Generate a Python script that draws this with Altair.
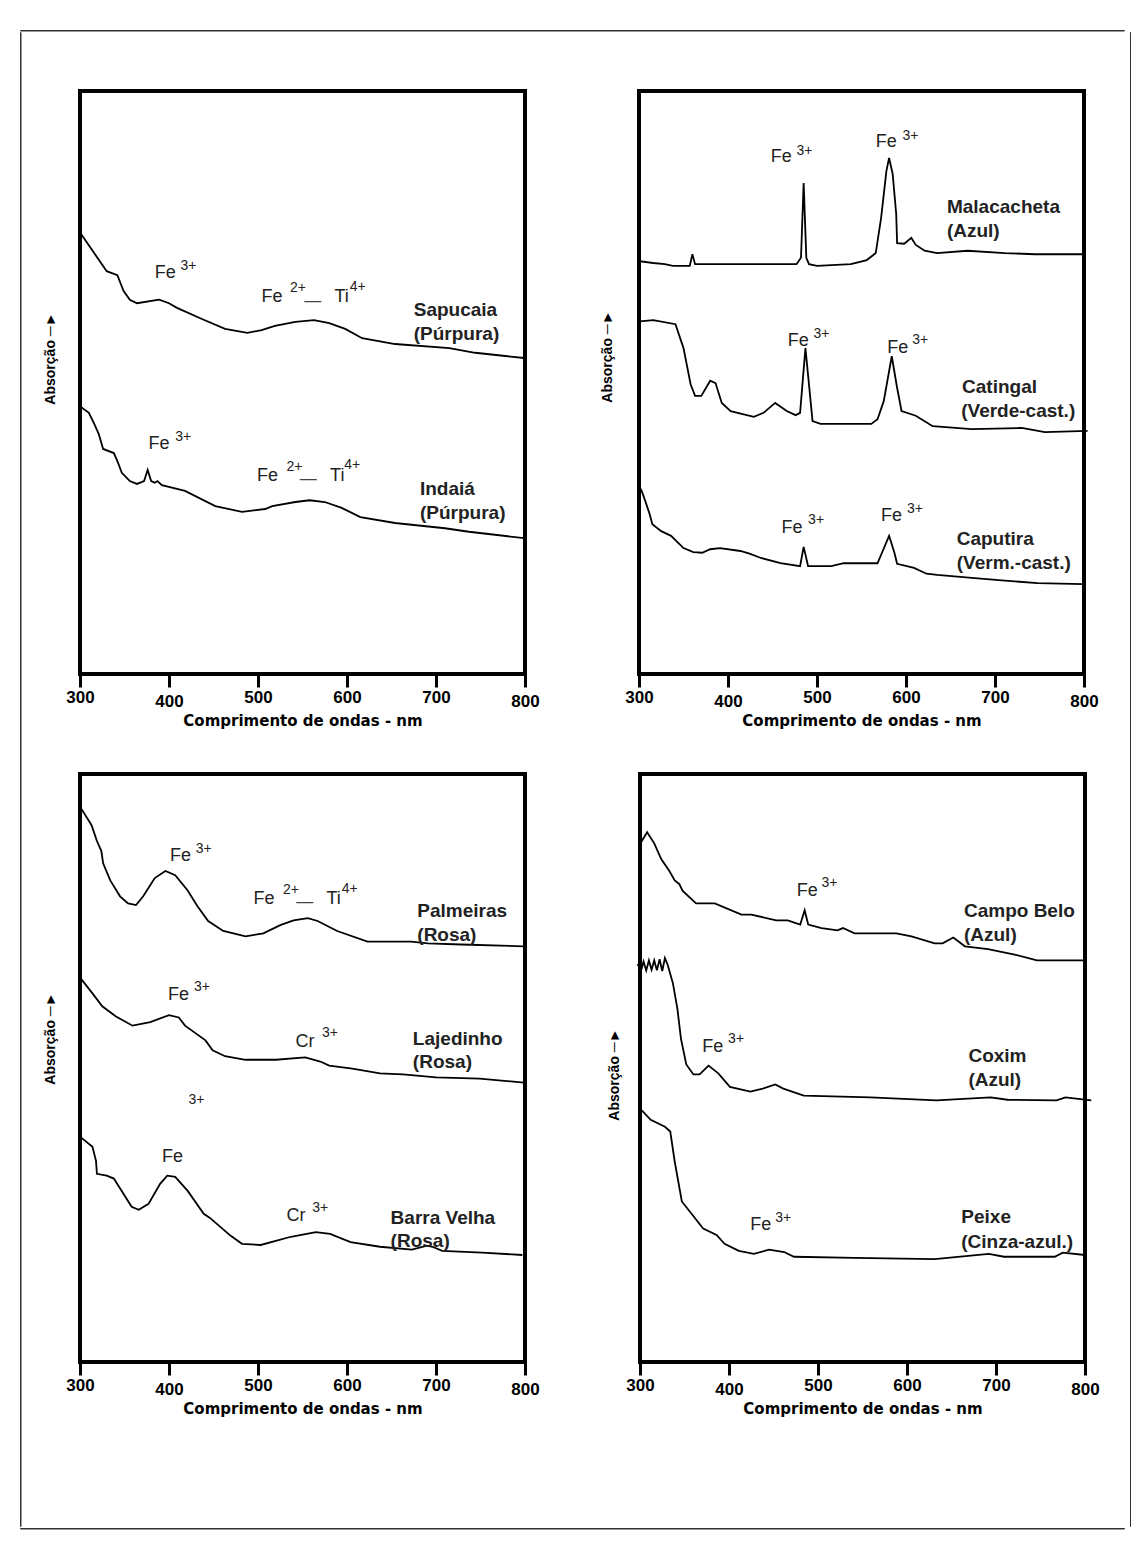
import altair as alt
import pandas as pd

# ---------------- data (wavelength nm, relative absorption) ----------------
# Panel A (top-left)
sap_nm = [301, 330, 342, 349, 356, 364, 389, 400, 409, 437, 463, 488, 504, 519, 542, 563, 580, 598, 617, 654, 715, 744, 799]
sap_ab = [75.5, 69.1, 68.4, 65.7, 64.2, 63.6, 64.2, 63.6, 62.8, 60.9, 59.2, 58.5, 59.0, 59.7, 60.4, 60.7, 60.2, 59.2, 57.6, 56.6, 55.9, 55.1, 54.2]
ind_nm = [301, 310, 316, 321, 326, 338, 342, 347, 356, 364, 372, 376, 380, 384, 387, 392, 418, 452, 482, 508, 516, 542, 558, 575, 594, 615, 654, 710, 737, 799]
ind_ab = [45.8, 44.8, 42.9, 41.2, 38.6, 37.9, 36.5, 34.5, 33.1, 32.6, 33.1, 35.0, 33.1, 32.8, 33.1, 32.4, 31.4, 28.8, 27.8, 28.3, 28.8, 29.5, 29.8, 29.5, 28.5, 26.9, 25.9, 25.0, 24.4, 23.3]

# Panel B (top-right)
mal_nm = [301, 316, 329, 338, 357, 360, 363, 372, 410, 448, 477, 482, 485, 488, 491, 500, 538, 556, 566, 572, 578, 581, 585, 589, 590, 598, 606, 611, 621, 635, 669, 711, 745, 799]
mal_ab = [70.8, 70.5, 70.3, 70.0, 70.0, 72.0, 70.3, 70.3, 70.3, 70.3, 70.3, 71.4, 84.2, 71.4, 70.3, 70.0, 70.3, 71.0, 72.2, 78.2, 86.3, 88.5, 85.8, 78.9, 73.9, 73.8, 74.8, 73.6, 72.6, 72.2, 72.6, 72.2, 72.0, 72.0]
cat_nm = [301, 316, 341, 350, 358, 363, 370, 380, 386, 393, 403, 429, 440, 453, 466, 476, 481, 487, 495, 504, 561, 568, 575, 584, 590, 595, 611, 630, 674, 730, 756, 804]
cat_ab = [60.5, 60.7, 60.0, 55.9, 49.7, 47.7, 47.7, 50.3, 49.9, 46.5, 45.1, 44.1, 44.8, 46.5, 45.1, 44.4, 44.8, 55.9, 43.4, 42.9, 42.9, 43.7, 46.8, 54.5, 49.1, 45.1, 44.3, 42.5, 42.0, 42.2, 41.5, 41.7]
cap_nm = [300, 303, 307, 312, 315, 325, 336, 350, 361, 371, 380, 391, 414, 425, 437, 459, 481, 485, 490, 516, 530, 568, 573, 581, 587, 590, 609, 623, 635, 674, 711, 748, 799]
cap_ab = [32.2, 31.4, 29.7, 27.4, 25.7, 24.5, 23.7, 21.6, 20.9, 20.8, 21.4, 21.6, 21.1, 20.6, 19.9, 19.0, 18.5, 21.8, 18.5, 18.5, 19.0, 19.0, 20.8, 23.7, 20.8, 18.9, 18.2, 17.2, 17.0, 16.5, 16.0, 15.6, 15.4]

# Panel C (bottom-left)
pal_nm = [301, 308, 313, 319, 324, 326, 334, 345, 354, 363, 371, 384, 396, 407, 421, 432, 444, 461, 486, 506, 525, 540, 556, 567, 589, 623, 672, 691, 728, 799]
pal_ab = [94.2, 92.5, 91.3, 88.6, 86.9, 84.8, 81.9, 79.2, 78.0, 77.7, 79.2, 82.3, 83.5, 82.8, 80.2, 77.5, 75.0, 73.3, 72.4, 72.9, 74.3, 75.1, 75.5, 75.0, 73.3, 71.5, 71.5, 71.2, 71.0, 70.7]
laj_nm = [301, 314, 325, 340, 359, 379, 400, 411, 418, 441, 449, 463, 486, 520, 553, 570, 580, 606, 637, 663, 700, 749, 799]
laj_ab = [65.2, 62.7, 60.5, 58.8, 57.2, 57.8, 59.0, 58.6, 57.2, 54.7, 53.0, 52.0, 51.4, 51.4, 51.8, 51.1, 50.4, 49.9, 49.1, 48.9, 48.4, 48.2, 47.5]
bar_nm = [301, 314, 318, 319, 330, 338, 358, 366, 377, 390, 398, 407, 421, 439, 446, 469, 482, 503, 537, 565, 581, 604, 637, 673, 690, 696, 707, 752, 797]
bar_ab = [38.2, 36.6, 34.2, 32.0, 31.7, 31.2, 26.4, 25.9, 26.9, 30.3, 31.7, 31.5, 29.1, 25.2, 24.5, 21.5, 20.1, 19.9, 21.3, 22.1, 21.8, 20.4, 19.6, 19.1, 19.8, 19.6, 18.9, 18.6, 18.2]

# Panel D (bottom-right)
cb_nm = [300, 308, 316, 324, 333, 339, 344, 348, 363, 384, 414, 425, 453, 466, 480, 485, 489, 504, 522, 528, 541, 588, 605, 631, 640, 652, 665, 691, 721, 746, 800]
cb_ab = [88.1, 90.1, 88.2, 85.5, 83.5, 81.9, 81.3, 80.1, 78.0, 78.0, 76.1, 76.1, 75.1, 75.1, 74.4, 76.8, 74.4, 73.8, 73.4, 73.8, 72.9, 72.9, 72.4, 71.2, 71.2, 72.2, 70.7, 70.2, 69.3, 68.3, 68.3]
cox_nm = [297, 300, 301.5, 304, 307, 310, 313, 316, 319, 322, 325, 328, 331, 337, 342, 346, 352, 360, 367, 377, 388, 401, 424, 438, 452, 461, 484, 559, 633, 694, 713, 768, 778, 807]
cox_ab = [67.4, 67.9, 66.7, 68.1, 66.6, 68.3, 66.7, 68.3, 66.6, 68.5, 66.5, 68.7, 67.6, 64.4, 60.1, 55.0, 50.6, 48.9, 48.9, 50.4, 49.1, 46.8, 46.0, 46.5, 47.2, 46.5, 45.3, 45.0, 44.5, 45.0, 44.6, 44.5, 45.0, 44.5]
pei_nm = [302, 312, 328, 334, 339, 347, 371, 386, 395, 411, 428, 445, 462, 473, 541, 631, 692, 709, 766, 775, 800]
pei_ab = [42.8, 41.2, 40.0, 39.2, 34.1, 27.3, 22.7, 21.6, 20.1, 18.9, 18.4, 19.1, 18.7, 17.9, 17.7, 17.5, 18.4, 17.9, 17.9, 18.6, 18.2]

# annotations: (text, nm, absorption, kind)
notes_a = [
    ("Fe", 384, 68.8, "ion"), ("3+", 413, 70.0, "sup"),
    ("Fe", 504, 64.7, "ion"), ("2+", 536, 66.2, "sup"), ("—", 552, 64.0, "dash"),
    ("Ti", 586, 64.7, "ion"), ("4+", 603, 66.4, "sup"),
    ("Sapucaia", 675, 62.4, "name"), ("(Púrpura)", 675, 58.3, "name"),
    ("Fe", 377, 39.5, "ion"), ("3+", 407, 40.7, "sup"),
    ("Fe", 499, 34.0, "ion"), ("2+", 532, 35.5, "sup"), ("—", 547, 33.4, "dash"),
    ("Ti", 581, 34.0, "ion"), ("4+", 597, 35.8, "sup"),
    ("Indaiá", 682, 31.7, "name"), ("(Púrpura)", 682, 27.6, "name"),
]
notes_b = [
    ("Fe", 448, 88.7, "ion"), ("3+", 477, 89.7, "sup"),
    ("Fe", 566, 91.3, "ion"), ("3+", 596, 92.3, "sup"),
    ("Malacacheta", 646, 80.1, "name"), ("(Azul)", 646, 76.0, "name"),
    ("Fe", 467, 57.1, "ion"), ("3+", 496, 58.3, "sup"),
    ("Fe", 579, 55.9, "ion"), ("3+", 607, 57.3, "sup"),
    ("Catingal", 663, 49.2, "name"), ("(Verde-cast.)", 662, 45.1, "name"),
    ("Fe", 460, 25.0, "ion"), ("3+", 490, 26.4, "sup"),
    ("Fe", 572, 27.1, "ion"), ("3+", 601, 28.3, "sup"),
    ("Caputira", 657, 23.2, "name"), ("(Verm.-cast.)", 657, 19.0, "name"),
]
notes_c = [
    ("Fe", 401, 86.0, "ion"), ("3+", 430, 87.2, "sup"),
    ("Fe", 495, 78.7, "ion"), ("2+", 528, 80.2, "sup"), ("—", 543, 78.2, "dash"),
    ("Ti", 577, 78.7, "ion"), ("4+", 594, 80.4, "sup"),
    ("Palmeiras", 679, 76.7, "name"), ("(Rosa)", 679, 72.7, "name"),
    ("Fe", 399, 62.4, "ion"), ("3+", 428, 63.7, "sup"),
    ("Cr", 542, 54.5, "ion"), ("3+", 572, 55.9, "sup"),
    ("Lajedinho", 674, 55.0, "name"), ("(Rosa)", 674, 51.1, "name"),
    ("3+", 422, 44.6, "sup"),
    ("Fe", 392, 34.9, "ion"),
    ("Cr", 532, 24.9, "ion"), ("3+", 561, 26.2, "sup"),
    ("Barra Velha", 649, 24.5, "name"), ("(Rosa)", 649, 20.6, "name"),
]
notes_d = [
    ("Fe", 476, 80.1, "ion"), ("3+", 504, 81.4, "sup"),
    ("Campo Belo", 664, 76.7, "name"), ("(Azul)", 664, 72.6, "name"),
    ("Fe", 370, 53.5, "ion"), ("3+", 399, 54.9, "sup"),
    ("Coxim", 669, 52.0, "name"), ("(Azul)", 669, 48.0, "name"),
    ("Fe", 424, 23.3, "ion"), ("3+", 452, 24.5, "sup"),
    ("Peixe", 661, 24.7, "name"), ("(Cinza-azul.)", 661, 20.4, "name"),
]

tick_values = [300, 400, 500, 600, 700, 800]
x_title = "Comprimento de ondas - nm"
y_title = "Absorção ─►"

W = 445


def panel(series, notes, title_pad, title_y, height):
    lines = pd.concat(
        [pd.DataFrame({"nm": n, "ab": a, "amostra": name}) for name, n, a in series],
        ignore_index=True,
    )
    ann = pd.DataFrame(notes, columns=["text", "nm", "ab", "kind"])

    x = alt.X(
        "nm:Q",
        scale=alt.Scale(domain=[300, 800], nice=False, zero=False),
        axis=alt.Axis(
            values=tick_values, title=x_title, grid=False, domain=False,
            tickSize=13, tickWidth=3, tickColor="black",
            labelFont="Liberation Sans", labelFontSize=17, labelFontWeight="bold",
            labelColor="black", labelFlush=False, labelOverlap=False,
            labelPadding={"condition": {"test": "datum.value == 400 || datum.value == 800", "value": 6}, "value": 2},
            titleFont="DejaVu Sans", titleFontSize=15, titleFontWeight="bold",
            titleColor="black", titlePadding=4,
        ),
    )
    y = alt.Y(
        "ab:Q",
        scale=alt.Scale(domain=[0, 100], nice=False, zero=False),
        axis=alt.Axis(
            title=y_title, labels=False, ticks=False, domain=False, grid=False,
            titleFont="Liberation Sans", titleFontSize=14, titleFontWeight="bold",
            titleColor="black", titlePadding=title_pad, titleY=title_y,
        ),
    )
    line = alt.Chart(lines).mark_line(color="black", strokeWidth=1.8).encode(
        x=x, y=y, detail="amostra:N"
    )
    base = alt.Chart(ann).encode(x=x, y=y, text="text:N")
    ion = base.mark_text(align="left", baseline="middle", font="Liberation Sans",
                         fontSize=18, color="#222").transform_filter(alt.datum.kind == "ion")
    sup = base.mark_text(align="left", baseline="middle", font="Liberation Sans",
                         fontSize=14, color="#222").transform_filter(alt.datum.kind == "sup")
    dash = base.mark_text(align="left", baseline="middle", font="Liberation Sans",
                          fontSize=17, color="#444").transform_filter(alt.datum.kind == "dash")
    name = base.mark_text(align="left", baseline="middle", font="Liberation Sans",
                          fontSize=19, fontWeight="bold", color="#222").transform_filter(alt.datum.kind == "name")
    return alt.layer(line, ion, sup, dash, name).properties(width=W, height=height)


pa = panel([("Sapucaia", sap_nm, sap_ab), ("Indaiá", ind_nm, ind_ab)], notes_a, 23, 267, 583)
pb = panel([("Malacacheta", mal_nm, mal_ab), ("Catingal", cat_nm, cat_ab),
            ("Caputira", cap_nm, cap_ab)], notes_b, 25, 265, 583)
pc = panel([("Palmeiras", pal_nm, pal_ab), ("Lajedinho", laj_nm, laj_ab),
            ("Barra Velha", bar_nm, bar_ab)], notes_c, 23, 264, 588)
pd_ = panel([("Campo Belo", cb_nm, cb_ab), ("Coxim", cox_nm, cox_ab),
             ("Peixe", pei_nm, pei_ab)], notes_d, 19, 300, 588)

# ---- the thin frame around the whole figure, built from empty views ----
blank = pd.DataFrame({"v": [0]})


def empty_view(w, h, stroke, sw):
    return (
        alt.Chart(blank).mark_point(size=0, opacity=0, strokeWidth=0, filled=True)
        .encode(x=alt.value(0), y=alt.value(0))
        .properties(width=w, height=h, view=alt.ViewBackground(stroke=stroke, strokeWidth=sw))
    )


FRAME_W, FRAME_H = 1104, 1494
top_line = empty_view(FRAME_W, 0.5, "#333", 1)
bottom_line = empty_view(FRAME_W, 0.5, "#333", 1)
left_line = empty_view(0.5, FRAME_H, "#333", 1)
right_line = empty_view(0.5, FRAME_H, "#333", 1)
spacer = empty_view(1, 15, "transparent", 0)

rows = alt.vconcat(
    spacer,
    alt.hconcat(pa, pb, spacing=56),
    alt.hconcat(pc, pd_, spacing=63),
    spacing=42,
)
middle = alt.hconcat(left_line, alt.hconcat(rows, right_line, spacing=27), spacing=20)

chart = (
    alt.vconcat(top_line, middle, bottom_line, spacing=0)
    .properties(padding={"left": 11, "top": 21, "right": 0, "bottom": 5}, background="white")
    .configure_view(stroke="black", strokeWidth=4)
)

chart.save("out.html", embed_options={"renderer": "svg", "actions": False})
